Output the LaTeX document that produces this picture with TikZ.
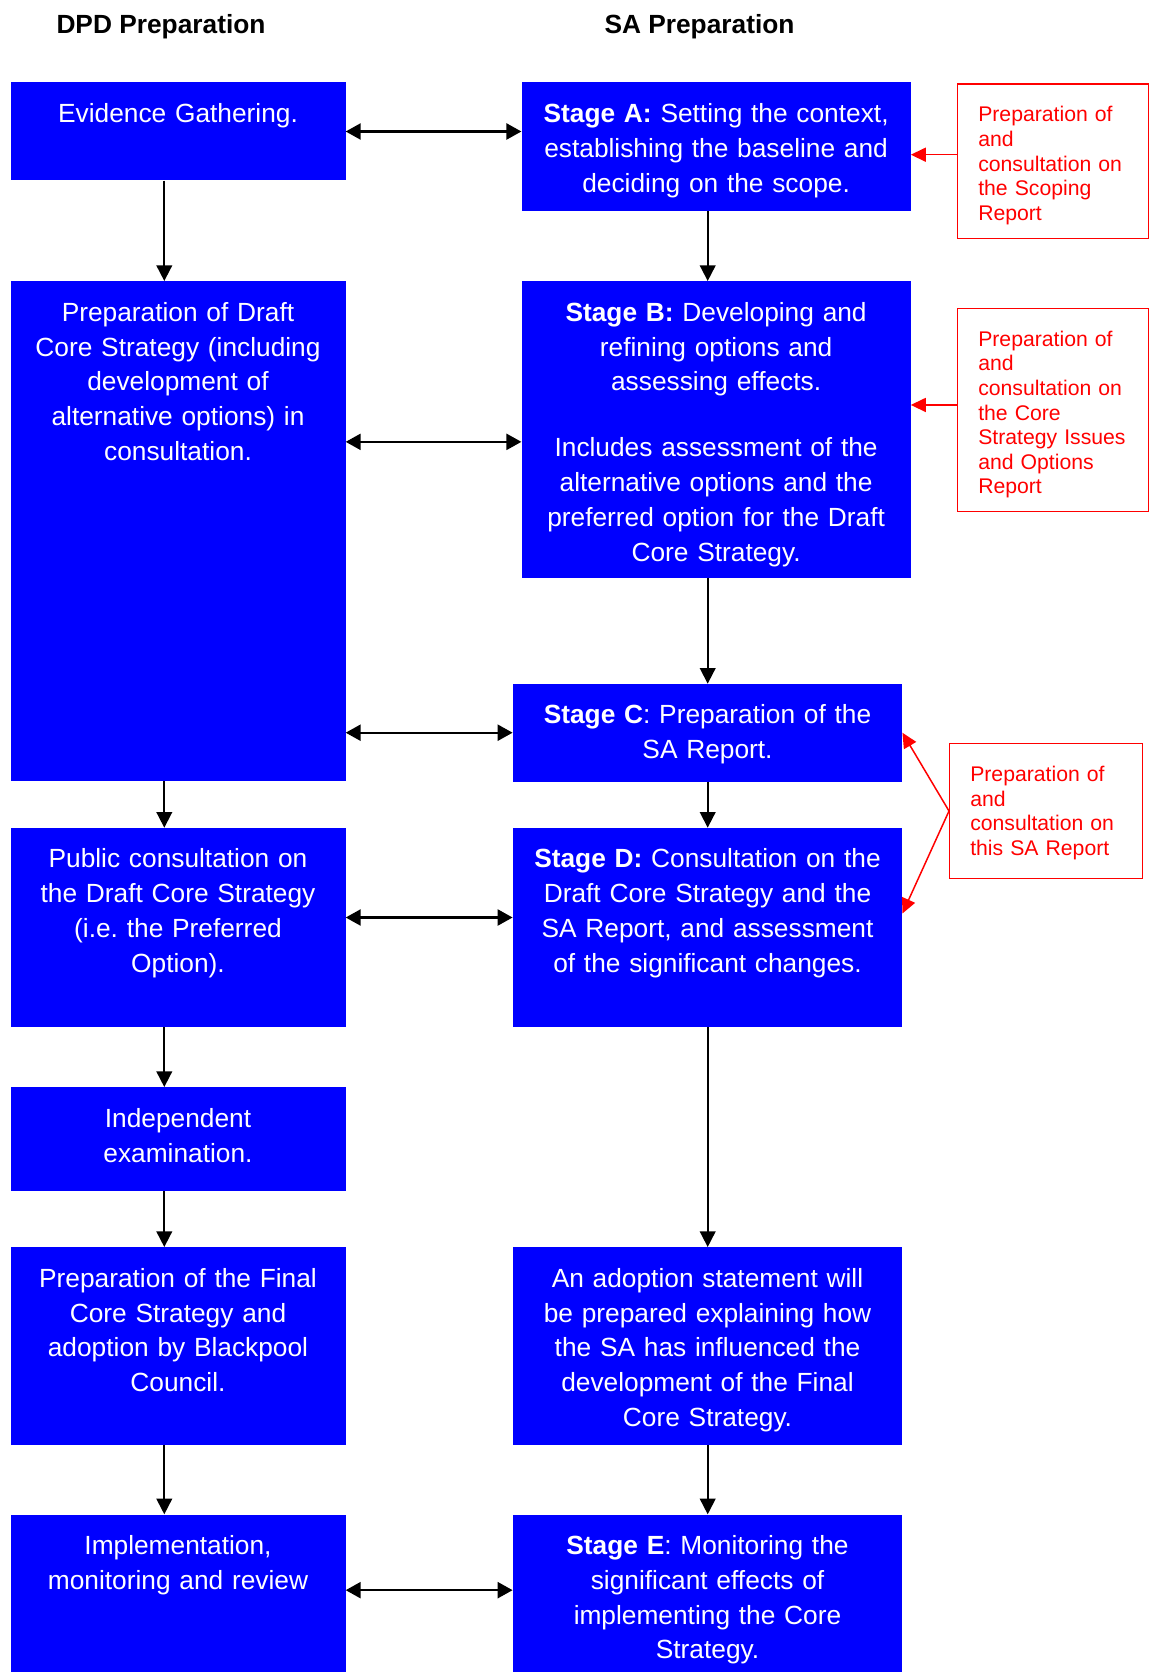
\documentclass[tikz,border=0pt]{standalone}
\usepackage{fontspec}
\setmainfont{Liberation Sans}
\usetikzlibrary{arrows.meta}
\frenchspacing

\begin{document}
\begin{tikzpicture}[x=1pt, y=-1pt,
  every node/.style={font=\fontsize{26.3pt}{34.8pt}\selectfont},
  blk/.style={fill=blue, text=white, anchor=north west, align=center,
    inner xsep=0pt, inner ysep=0pt, text height=40pt},
  note/.style={draw=red, line width=1.3pt, text=red, anchor=north west,
    align=left, inner xsep=20.6pt, inner ysep=0pt, text height=38pt,
    font=\fontsize{21.2pt}{24.6pt}\selectfont},
  head/.style={anchor=base, font=\fontsize{26.3pt}{34.8pt}\selectfont\bfseries},
  arr/.style={-{Triangle[length=15.7pt, width=15.7pt]}, line width=1.8pt},
  dbl/.style={{Triangle[length=15pt, width=16pt]}-{Triangle[length=15pt, width=16pt]},
    line width=2.4pt},
  redarr/.style={-{Triangle[length=15pt, width=14pt]}, red, line width=1.5pt}]
  \useasboundingbox (0,0) rectangle (1150,1672);
  % column headings
  \node[head] (dpdhead) at (161,33.3) {DPD Preparation};
  \node[head] (sahead) at (699.5,33.3) {SA Preparation};
  % DPD column
  \node[blk, text width=335pt, text depth=58pt] (evid) at (10.3,82.3)
    {Evidence Gathering.};
  \node[blk, text width=335pt, text depth=460pt] (draft) at (10.3,281)
    {Preparation of Draft\\ Core Strategy (including\\ development of\\
     alternative options) in\\ consultation.};
  \node[blk, text width=335pt, text depth=159pt] (public) at (10.3,827.7)
    {Public consultation on\\ the Draft Core Strategy\\ (i.e. the Preferred\\ Option).};
  \node[blk, text width=335pt, text depth=63.7pt] (indep) at (10.3,1087)
    {Independent\\ examination.};
  \node[blk, text width=335pt, text depth=157.7pt] (final) at (10.3,1247)
    {Preparation of the Final\\ Core Strategy and\\ adoption by Blackpool\\ Council.};
  \node[blk, text width=335pt, text depth=145.7pt] (impl) at (10.3,1514.3)
    {Implementation,\\ monitoring and review};
  % SA column
  \node[blk, text width=389pt, text depth=88.7pt] (stageA) at (521.4,82.3)
    {\textbf{Stage A:} Setting the context,\\ establishing the baseline and\\
     deciding on the scope.};
  \node[blk, text width=389pt, text depth=256.3pt] (stageB) at (521.4,281)
    {\textbf{Stage B:} Developing and\\ refining options and\\ assessing effects.\\[31.2pt]
     Includes assessment of the\\ alternative options and the\\
     preferred option for the Draft\\ Core Strategy.};
  \node[blk, text width=389.4pt, text depth=57.6pt] (stageC) at (512.6,683.7)
    {\textbf{Stage C}: Preparation of the\\ SA Report.};
  \node[blk, text width=389.4pt, text depth=159pt] (stageD) at (512.6,827.7)
    {\textbf{Stage D:} Consultation on the\\ Draft Core Strategy and the\\
     SA Report, and assessment\\ of the significant changes.};
  \node[blk, text width=389.4pt, text depth=157.7pt] (adopt) at (512.6,1247)
    {An adoption statement will\\ be prepared explaining how\\ the SA has influenced the\\
     development of the Final\\ Core Strategy.};
  \node[blk, text width=389.4pt, text depth=145.7pt] (stageE) at (512.6,1514.3)
    {\textbf{Stage E}: Monitoring the\\ significant effects of\\ implementing the Core\\ Strategy.};
  % report notes
  \node[note, text width=149.8pt, text depth=116.7pt] (scoping) at (957,83.3)
    {Preparation of\\ and\\ consultation on\\ the Scoping\\ Report};
  \node[note, text width=149.8pt, text depth=165pt] (issues) at (957,307.7)
    {Preparation of\\ and\\ consultation on\\ the Core\\ Strategy Issues\\ and Options\\ Report};
  \node[note, text width=151.8pt, text depth=96.7pt] (sarep) at (949,743)
    {Preparation of\\ and\\ consultation on\\ this SA Report};
  % flow down each column
  \coordinate (lx) at (164.3,0);
  \coordinate (rx) at (707.7,0);
  \foreach \a/\b in {evid/draft, draft/public, public/indep, indep/final, final/impl}
    \draw[arr] (\a.south -| lx) -- (\b.north -| lx);
  \foreach \a/\b in {stageA/stageB, stageB/stageC, stageC/stageD, stageD/adopt, adopt/stageE}
    \draw[arr] (\a.south -| rx) -- (\b.north -| rx);
  % links between columns
  \draw[dbl] (evid.east) -- (evid.east -| stageA.west);
  \draw[dbl] ([yshift=-12.5pt]stageB.west -| draft.east) -- ([yshift=-12.5pt]stageB.west);
  \draw[dbl] (stageC.west -| draft.east) -- (stageC.west);
  \draw[dbl] ([yshift=9.9pt]public.east) -- ([yshift=9.9pt]public.east -| stageD.west);
  \draw[dbl] ([yshift=17.2pt]impl.east) -- ([yshift=17.2pt]impl.east -| stageE.west);
  % notes into stages
  \draw[redarr] ([yshift=6.6pt]scoping.west) -- ([yshift=6.6pt]scoping.west -| stageA.east);
  \draw[redarr] ([yshift=4.9pt]issues.west) -- ([yshift=4.9pt]issues.west -| stageB.east);
  \draw[redarr] (sarep.west) -- (stageC.east);
  \draw[redarr] (sarep.west) -- ([yshift=13.9pt]stageD.east);
\end{tikzpicture}
\end{document}
